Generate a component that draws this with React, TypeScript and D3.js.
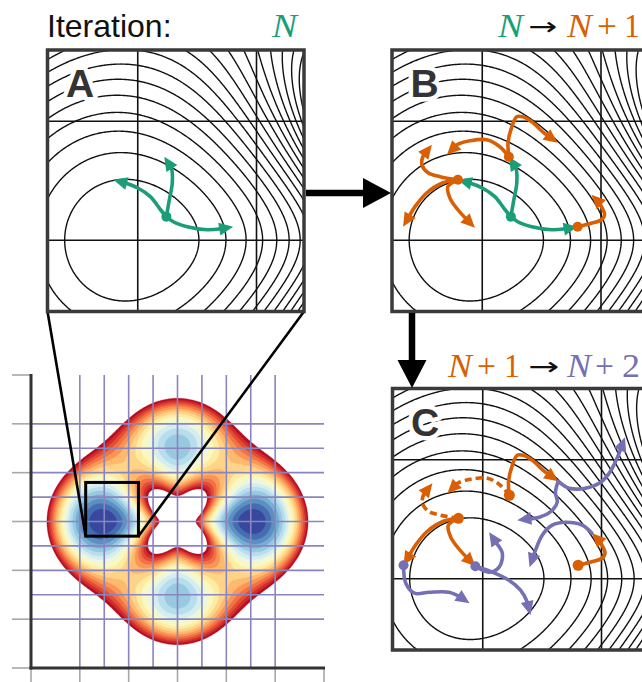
import React, { useMemo } from 'react';
import * as d3 from 'd3';

// ---------------- data ----------------
// ring-shaped four-well potential: V = k (r - R)^2 + a0 + a1 cos(2θ) + a2 cos(4θ)
const RING_RADIUS = 3.05;
const RADIAL_K = 1.0;
const ANGULAR_COEFFS = [-3.3, -0.645, -1.34];
const CUTOFF = 0;
const N_BANDS = 17;
// contour-line levels in the zoom panels: vmin + step * k * (1 - k / LEVEL_CURVE)
const LINE_STEP = 0.325;
const LEVEL_CURVE = 60;
const N_LINES = 29;

const DOMAIN = [-6, 6];
const AXIS_TICKS = [-6, -4, -2, 0, 2, 4, 6];
const GRID_LINES = [-4, -3, -2, -1, 0, 1, 2, 3, 4];
const ZOOM_X = [-3.76, -1.6];
const ZOOM_Y = [-1.6, 0.6];
const PANEL_GRID_X = [-3, -2];
const PANEL_GRID_Y = [-1, 0];

type P = [number, number];

// iteration N (green)
const greenStart: P = [-2.759, -0.198];
const greenUp: P[] = [greenStart, [-2.734, -0.34], [-2.709, -0.483], [-2.717, -0.609], [-2.776, -0.702]];
const greenLeft: P[] = [greenStart, [-2.808, -0.256], [-2.894, -0.366], [-3.003, -0.441], [-3.112, -0.483], [-3.205, -0.508]];
const greenRight: P[] = [greenStart, [-2.701, -0.155], [-2.583, -0.113], [-2.415, -0.088], [-2.29, -0.097], [-2.197, -0.113]];

const last = (a: P[]): P => a[a.length - 1];

// iteration N+1 (orange), starting from the green end points
const orangeUpRight: P[] = [last(greenUp), [-2.783, -0.819], [-2.751, -0.954], [-2.71, -1.038], [-2.659, -1.038], [-2.583, -0.996], [-2.491, -0.912], [-2.365, -0.819]];
const orangeUpLeft: P[] = [last(greenUp), [-2.852, -0.786], [-2.961, -0.845], [-3.104, -0.836], [-3.213, -0.803], [-3.297, -0.718]];
const orangeHook: P[] = [last(greenLeft), [-3.356, -0.534], [-3.457, -0.567], [-3.508, -0.634], [-3.497, -0.71], [-3.424, -0.803]];
const orangeDownLeft: P[] = [last(greenLeft), [-3.331, -0.483], [-3.466, -0.399], [-3.566, -0.282], [-3.667, -0.113]];
const orangeDownRight: P[] = [last(greenLeft), [-3.29, -0.45], [-3.27, -0.35], [-3.205, -0.256], [-3.129, -0.172], [-3.062, -0.105]];
const orangeRight: P[] = [last(greenRight), [-2.096, -0.139], [-1.996, -0.172], [-1.97, -0.214], [-1.996, -0.282], [-2.039, -0.34], [-2.081, -0.382]];

// iteration N+2 (purple), starting from the kept orange end points
const purpleUpRight: P[] = [last(orangeUpRight), [-2.272, -0.761], [-2.135, -0.761], [-2.02, -0.802], [-1.936, -0.886], [-1.869, -1.013], [-1.802, -1.19]];
const purpleBack: P[] = [last(orangeUpRight), [-2.388, -0.727], [-2.373, -0.643], [-2.415, -0.576], [-2.524, -0.517], [-2.709, -0.492]];
const purpleArc: P[] = [last(orangeRight), [-2.163, -0.45], [-2.304, -0.475], [-2.415, -0.45], [-2.499, -0.366], [-2.556, -0.24], [-2.606, -0.097]];
const purpleUp: P[] = [last(orangeDownRight), [-2.946, -0.055], [-2.862, -0.097], [-2.835, -0.214], [-2.891, -0.307], [-2.946, -0.391]];
const purpleDown: P[] = [last(orangeDownRight), [-2.93, -0.06], [-2.779, 0.013], [-2.682, 0.097], [-2.625, 0.197], [-2.598, 0.307]];
const purpleLow: P[] = [last(orangeDownLeft), [-3.648, 0.038], [-3.575, 0.122], [-3.451, 0.114], [-3.283, 0.114], [-3.186, 0.156], [-3.111, 0.206]];

const GREEN = '#1b9e77';
const ORANGE = '#d95f02';
const PURPLE = '#7570b3';

function potential(x: number, y: number): number {
  const r = Math.hypot(x, y);
  const th = Math.atan2(y, x);
  const d = r - RING_RADIUS;
  return (
    RADIAL_K * d * d +
    ANGULAR_COEFFS[0] +
    ANGULAR_COEFFS[1] * Math.cos(2 * th) +
    ANGULAR_COEFFS[2] * Math.cos(4 * th)
  );
}

// heatmap scales
const hx = d3.scaleLinear().domain(DOMAIN).range([31, 324]);
const hy = d3.scaleLinear().domain(DOMAIN).range([375, 668]);
// panel scales (panel A frame)
const px = d3.scaleLinear().domain(ZOOM_X).range([47.5, 304]);
const py = d3.scaleLinear().domain(ZOOM_Y).range([50, 311.5]);

function Branch({ pts, color, dashed }: { pts: P[]; color: string; dashed?: boolean }) {
  const pp = pts.map((p) => [px(p[0]), py(p[1])] as [number, number]);
  const n = pp.length;
  const tip = pp[n - 1];
  const prev = pp[n - 2];
  let dx = tip[0] - prev[0];
  let dy = tip[1] - prev[1];
  const len = Math.hypot(dx, dy) || 1;
  dx /= len;
  dy /= len;
  const L = 14;
  const HW = 6.5;
  const base = [tip[0] - dx * L, tip[1] - dy * L];
  const body = pp.slice(0, n - 1).concat([[tip[0] - dx * L * 0.6, tip[1] - dy * L * 0.6]]);
  const d = d3.line().curve(d3.curveCatmullRom.alpha(0.5))(body as any) || '';
  const head = [tip, [base[0] - dy * HW, base[1] + dx * HW], [base[0] + dy * HW, base[1] - dx * HW]];
  return (
    <g>
      <path
        d={d}
        fill="none"
        stroke={color}
        strokeWidth={3.6}
        strokeDasharray={dashed ? '7 4' : undefined}
        strokeLinecap={dashed ? 'butt' : 'round'}
        strokeLinejoin="round"
      />
      <polygon points={head.map((p) => p.join(',')).join(' ')} fill={color} />
    </g>
  );
}

function Dot({ p, color, r = 5 }: { p: P; color: string; r?: number }) {
  return <circle cx={px(p[0])} cy={py(p[1])} r={r} fill={color} />;
}

export default function App() {
  const heat = useMemo(() => {
    const n = 241;
    const step = (DOMAIN[1] - DOMAIN[0]) / (n - 1);
    const vals = new Array(n * n);
    let vmin = Infinity;
    for (let j = 0; j < n; j++) {
      for (let i = 0; i < n; i++) {
        const v = potential(DOMAIN[0] + i * step, DOMAIN[0] + j * step);
        vals[j * n + i] = -v;
        if (v < vmin) vmin = v;
      }
    }
    const dl = (CUTOFF - vmin) / N_BANDS;
    const levels = d3.range(1, N_BANDS + 1).map((k) => vmin + k * dl);
    const cs = d3.contours().size([n, n]).thresholds(levels.map((l) => -l))(vals);
    const proj = d3.geoTransform({
      point(x: number, y: number) {
        (this as any).stream.point(hx(DOMAIN[0] + (x - 0.5) * step), hy(DOMAIN[0] + (y - 0.5) * step));
      },
    });
    const path = d3.geoPath(proj as any);
    return cs
      .map((c) => {
        const l = -c.value;
        const k = Math.round((l - vmin) / dl);
        return { l, d: path(c as any) || '', color: d3.interpolateRdYlBu(1 - (k - 0.5) / N_BANDS) };
      })
      .sort((a, b) => b.l - a.l);
  }, []);

  const lines = useMemo(() => {
    const x0 = ZOOM_X[0] - 0.1;
    const x1 = ZOOM_X[1] + 0.1;
    const y0 = ZOOM_Y[0] - 0.1;
    const y1 = ZOOM_Y[1] + 0.1;
    const step = 0.01;
    const nx = Math.round((x1 - x0) / step) + 1;
    const ny = Math.round((y1 - y0) / step) + 1;
    const vals = new Array(nx * ny);
    let vmin = Infinity;
    for (let j = 0; j < ny; j++) {
      for (let i = 0; i < nx; i++) {
        const v = potential(x0 + i * step, y0 + j * step);
        vals[j * nx + i] = v;
        if (v < vmin) vmin = v;
      }
    }
    const levels = d3.range(1, N_LINES + 1).map((k) => vmin + LINE_STEP * k * (1 - k / LEVEL_CURVE));
    const cs = d3.contours().size([nx, ny]).thresholds(levels)(vals);
    const proj = d3.geoTransform({
      point(x: number, y: number) {
        (this as any).stream.point(px(x0 + (x - 0.5) * step), py(y0 + (y - 0.5) * step));
      },
    });
    const path = d3.geoPath(proj as any);
    return cs.map((c) => path(c as any) || '');
  }, []);

  const panelBase = (letter: string) => (
    <g clipPath="url(#pclip)">
      <rect x={47.5} y={50} width={256.5} height={261.5} fill="#fff" />
      {lines.map((d, i) => (
        <path key={i} d={d} fill="none" stroke="#111" strokeWidth={1.4} />
      ))}
      {PANEL_GRID_X.map((v) => (
        <line key={'gx' + v} x1={px(v)} x2={px(v)} y1={50} y2={311.5} stroke="#111" strokeWidth={1.6} />
      ))}
      {PANEL_GRID_Y.map((v) => (
        <line key={'gy' + v} x1={47.5} x2={304} y1={py(v)} y2={py(v)} stroke="#111" strokeWidth={1.6} />
      ))}
      <text
        x={66}
        y={97}
        fontSize={39}
        fontWeight="bold"
        fill="#333"
        stroke="#fff"
        strokeWidth={9}
        strokeLinejoin="round"
        style={{ paintOrder: 'stroke' }}
      >
        {letter}
      </text>
    </g>
  );

  const border = <rect x={47.5} y={50} width={256.5} height={261.5} fill="none" stroke="#3a3a3a" strokeWidth={3.5} />;

  const serif = 'Liberation Serif, Times New Roman, serif';
  const arrowFont = 'DejaVu Sans, sans-serif';

  return (
    <svg
      width={642}
      height={682}
      style={{ position: 'absolute', left: 0, top: 0, background: '#fff' }}
      fontFamily="Liberation Sans, Arial, Helvetica, sans-serif"
    >
      <defs>
        <clipPath id="pclip">
          <rect x={47.5} y={50} width={256.5} height={261.5} />
        </clipPath>
      </defs>

      {/* heatmap bands */}
      {heat.map((b, i) => (
        <path key={i} d={b.d} fill={b.color} stroke={b.color} strokeWidth={0.3} />
      ))}

      {/* purple grid */}
      {GRID_LINES.map((v) => (
        <line key={'vx' + v} x1={hx(v)} x2={hx(v)} y1={hy(-6)} y2={hy(6)} stroke="#8a84bf" strokeWidth={1.6} />
      ))}
      {GRID_LINES.map((v) => (
        <line key={'hy' + v} x1={hx(-6)} x2={hx(6)} y1={hy(v)} y2={hy(v)} stroke="#8a84bf" strokeWidth={1.6} />
      ))}

      {/* ticks */}
      {AXIS_TICKS.map((v) => (
        <line key={'lt' + v} x1={12} x2={hx(-6)} y1={hy(v)} y2={hy(v)} stroke="#a8a8a8" strokeWidth={1.6} />
      ))}
      {AXIS_TICKS.map((v) => (
        <line key={'bt' + v} x1={hx(v)} x2={hx(v)} y1={hy(6)} y2={682} stroke="#a8a8a8" strokeWidth={1.6} />
      ))}
      {/* axes */}
      <line x1={hx(-6)} x2={hx(-6)} y1={hy(-6) - 1} y2={hy(6) + 1.5} stroke="#333" strokeWidth={3} />
      <line x1={hx(-6) - 1.5} x2={hx(6) + 1} y1={hy(6)} y2={hy(6)} stroke="#333" strokeWidth={3} />

      {/* zoom box */}
      <rect
        x={hx(ZOOM_X[0])}
        y={hy(ZOOM_Y[0])}
        width={hx(ZOOM_X[1]) - hx(ZOOM_X[0])}
        height={hy(ZOOM_Y[1]) - hy(ZOOM_Y[0])}
        fill="none"
        stroke="#000"
        strokeWidth={3}
      />
      <line x1={47.5} y1={311.5} x2={hx(ZOOM_X[0])} y2={hy(ZOOM_Y[1])} stroke="#000" strokeWidth={2.6} />
      <line x1={304} y1={311.5} x2={hx(ZOOM_X[1])} y2={hy(ZOOM_Y[1])} stroke="#000" strokeWidth={2.6} />

      {/* Panel A */}
      <g>
        {panelBase('A')}
        <g clipPath="url(#pclip)">
          <Branch pts={greenUp} color={GREEN} />
          <Branch pts={greenLeft} color={GREEN} />
          <Branch pts={greenRight} color={GREEN} />
          <Dot p={greenStart} color={GREEN} />
        </g>
        {border}
      </g>

      {/* Panel B */}
      <g transform="translate(344.5,0)">
        {panelBase('B')}
        <g clipPath="url(#pclip)">
          <Branch pts={greenUp} color={GREEN} />
          <Branch pts={greenLeft} color={GREEN} />
          <Branch pts={greenRight} color={GREEN} />
          <Dot p={greenStart} color={GREEN} />
          <Branch pts={orangeUpRight} color={ORANGE} />
          <Branch pts={orangeUpLeft} color={ORANGE} />
          <Branch pts={orangeHook} color={ORANGE} />
          <Branch pts={orangeDownLeft} color={ORANGE} />
          <Branch pts={orangeDownRight} color={ORANGE} />
          <Branch pts={orangeRight} color={ORANGE} />
          <Dot p={last(greenUp)} color={ORANGE} />
          <Dot p={last(greenLeft)} color={ORANGE} />
          <Dot p={last(greenRight)} color={ORANGE} />
        </g>
        {border}
      </g>

      {/* Panel C */}
      <g transform="translate(345,338.5)">
        {panelBase('C')}
        <g clipPath="url(#pclip)">
          <Branch pts={orangeUpRight} color={ORANGE} />
          <Branch pts={orangeUpLeft} color={ORANGE} dashed />
          <Branch pts={orangeHook} color={ORANGE} dashed />
          <Branch pts={orangeDownLeft} color={ORANGE} />
          <Branch pts={orangeDownRight} color={ORANGE} />
          <Branch pts={orangeRight} color={ORANGE} />
          <Branch pts={purpleUpRight} color={PURPLE} />
          <Branch pts={purpleBack} color={PURPLE} />
          <Branch pts={purpleArc} color={PURPLE} />
          <Branch pts={purpleUp} color={PURPLE} />
          <Branch pts={purpleDown} color={PURPLE} />
          <Branch pts={purpleLow} color={PURPLE} />
          <Dot p={last(greenUp)} color={ORANGE} r={5.5} />
          <Dot p={last(greenLeft)} color={ORANGE} r={5.5} />
          <Dot p={last(greenRight)} color={ORANGE} r={5.5} />
          <Dot p={last(orangeDownRight)} color={PURPLE} />
          <Dot p={last(orangeDownLeft)} color={PURPLE} />
        </g>
        {border}
      </g>

      {/* big arrows */}
      <line x1={306} x2={366} y1={193} y2={193} stroke="#000" strokeWidth={6.5} />
      <polygon points="363,178 391,193 363,208" fill="#000" />
      <line x1={412} x2={412} y1={313} y2={362} stroke="#000" strokeWidth={6.5} />
      <polygon points="397.5,360 412,388 426.5,360" fill="#000" />

      {/* headings */}
      <text x={47} y={37} fontSize={32} fill="#111">
        Iteration:
      </text>
      <text x={272} y={37} fontSize={33} fontFamily={serif} fontStyle="italic" fill={GREEN} textLength={25} lengthAdjust="spacingAndGlyphs">
        N
      </text>

      <text x={498} y={37} fontSize={33} fontFamily={serif} fontStyle="italic" fill={GREEN} textLength={25} lengthAdjust="spacingAndGlyphs">
        N
      </text>
      <text x={528} y={35} fontSize={25} fontFamily={arrowFont} fill="#111" textLength={29} lengthAdjust="spacingAndGlyphs">
        →
      </text>
      <text x={567} y={37} fontSize={33} fontFamily={serif} fontStyle="italic" fill={ORANGE} textLength={25} lengthAdjust="spacingAndGlyphs">
        N
      </text>
      <text x={597} y={37} fontSize={33} fontFamily={serif} fill={ORANGE} textLength={20} lengthAdjust="spacingAndGlyphs">
        +
      </text>
      <text x={624} y={37} fontSize={33} fontFamily={serif} fill={ORANGE} textLength={16} lengthAdjust="spacingAndGlyphs">
        1
      </text>

      <text x={448} y={377} fontSize={33} fontFamily={serif} fontStyle="italic" fill={ORANGE} textLength={24} lengthAdjust="spacingAndGlyphs">
        N
      </text>
      <text x={477} y={377} fontSize={33} fontFamily={serif} fill={ORANGE} textLength={19} lengthAdjust="spacingAndGlyphs">
        +
      </text>
      <text x={504} y={377} fontSize={33} fontFamily={serif} fill={ORANGE} textLength={16} lengthAdjust="spacingAndGlyphs">
        1
      </text>
      <text x={528} y={375} fontSize={25} fontFamily={arrowFont} fill="#111" textLength={31} lengthAdjust="spacingAndGlyphs">
        →
      </text>
      <text x={567} y={377} fontSize={33} fontFamily={serif} fontStyle="italic" fill={PURPLE} textLength={24} lengthAdjust="spacingAndGlyphs">
        N
      </text>
      <text x={595} y={377} fontSize={33} fontFamily={serif} fill={PURPLE} textLength={19} lengthAdjust="spacingAndGlyphs">
        +
      </text>
      <text x={622} y={377} fontSize={33} fontFamily={serif} fill={PURPLE} textLength={18} lengthAdjust="spacingAndGlyphs">
        2
      </text>
    </svg>
  );
}
